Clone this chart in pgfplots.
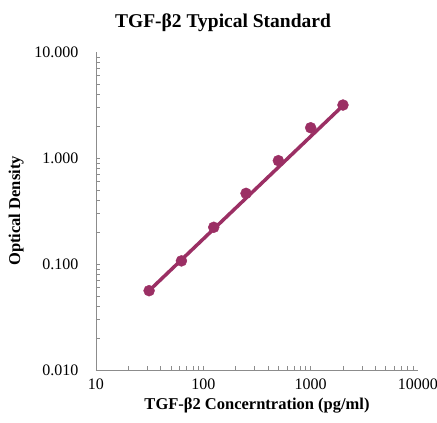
\documentclass[border=0pt]{standalone}
\usepackage{fontspec}
\setmainfont{Liberation Serif}
\usepackage{pgfplots}
\pgfplotsset{compat=1.18}
\definecolor{curve}{HTML}{9B2F64}
\definecolor{axgray}{HTML}{8C8C8C}

\begin{document}
\begin{tikzpicture}
\begin{axis}[
  at={(0,0)}, anchor=south west,
  scale only axis,
  width=322pt, height=318pt,
  xmode=log, ymode=log,
  xmin=10, xmax=10000,
  ymin=0.01, ymax=10,
  axis x line*=bottom, axis y line*=left,
  axis line style={axgray, line width=0.8pt, -},
  tick style={axgray, line width=0.6pt},
  tick align=inside,
  major tick length=0pt,
  minor tick length=4pt,
  xtick={10,100,1000,10000},
  xticklabels={10,100,1000,10000},
  ytick={0.01,0.1,1,10},
  yticklabels={0.010,0.100,1.000,10.000},
  tick label style={font=\fontsize{16}{18}\selectfont},
  xticklabel style={yshift=-5pt},
  yticklabel style={xshift=-14pt},
  xlabel={\bfseries TGF-β2 Concerntration (pg/ml)},
  ylabel={\bfseries Optical Density},
  xlabel style={font=\fontsize{16.5}{18}\selectfont, yshift=-2pt},
  ylabel style={font=\fontsize{16.5}{18}\selectfont, yshift=4pt},
  title={\bfseries TGF-β2 Typical Standard},
  title style={font=\fontsize{19.5}{22}\selectfont, yshift=11pt, xshift=-34pt},
]
  % fitted line
  \addplot[curve, line width=3.5pt] coordinates {
    (31.25,0.056) (2000,3.12)
  };
  % standards
  \addplot[only marks, mark=*, mark size=5.5pt, color=curve] coordinates {
    (31.25,0.056)
    (62.5,0.107)
    (125,0.222)
    (250,0.464)
    (500,0.944)
    (1000,1.93)
    (2000,3.16)
  };
\end{axis}
\pgfresetboundingbox
\path (-96pt,-53pt) rectangle (341pt,370pt);
\end{tikzpicture}
\end{document}
